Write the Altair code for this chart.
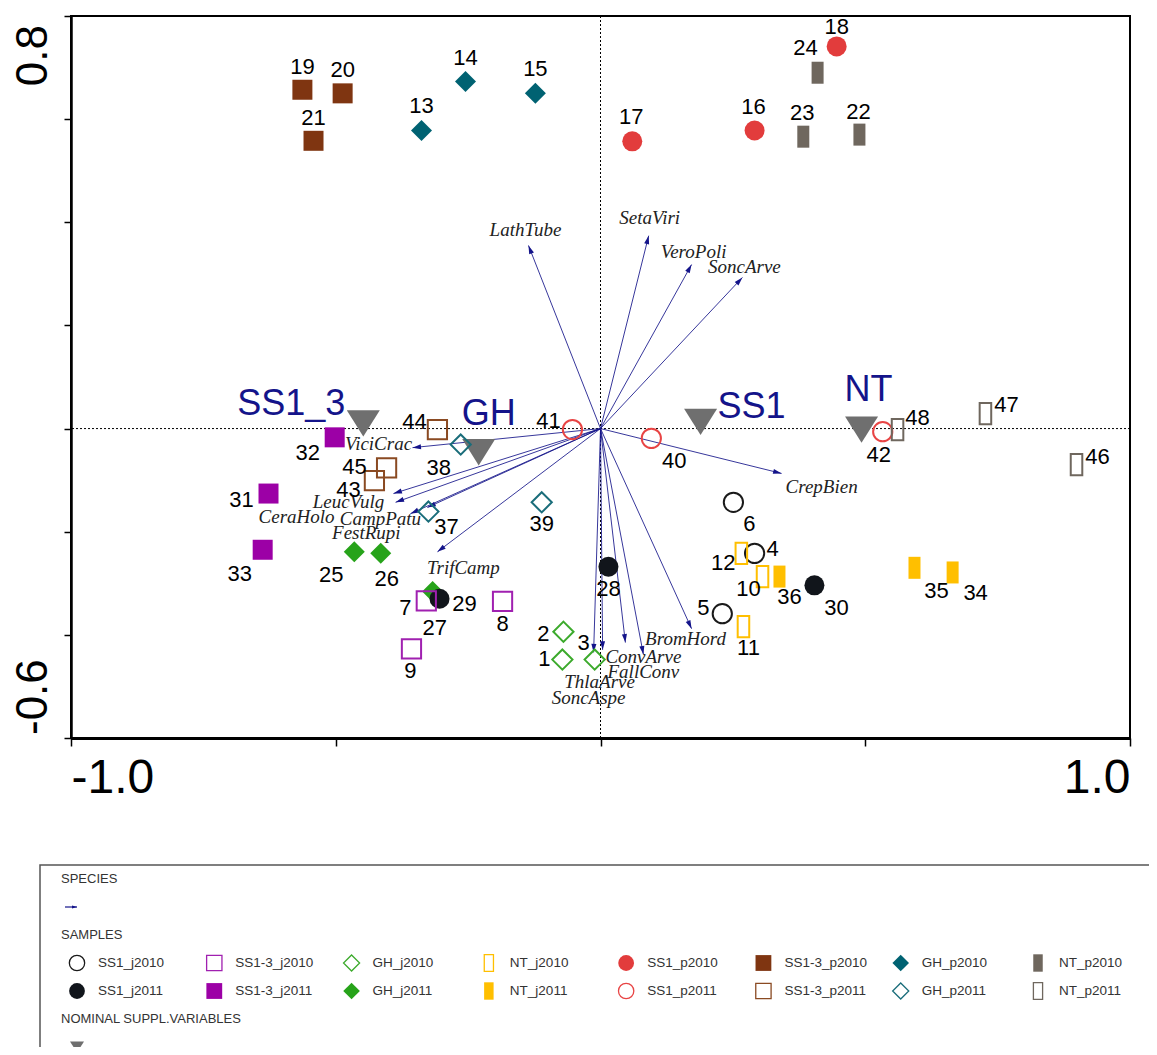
import altair as alt
import pandas as pd

# ---------------- data ----------------
sample_id = list(range(1, 49))
sample_x = [-0.072, -0.070, -0.011, 0.291, 0.230, 0.251, -0.329, -0.185, -0.357, 0.306, 0.270, 0.266,
            -0.338, -0.255, -0.123, 0.291, 0.060, 0.446, -0.563, -0.487, -0.542, 0.489, 0.383, 0.410,
            -0.465, -0.415, -0.317, 0.015, -0.304, 0.404, -0.627, -0.502, -0.638, 0.665, 0.593, 0.338,
            -0.325, -0.264, -0.111, 0.096, -0.053, 0.533, -0.427, -0.308, -0.404, 0.899, 0.727, 0.561]
sample_y = [-0.448, -0.394, -0.448, -0.242, -0.359, -0.143, -0.334, -0.335, -0.427, -0.287, -0.384, -0.242,
            0.578, 0.673, 0.650, 0.578, 0.557, 0.741, 0.657, 0.650, 0.558, 0.570, 0.566, 0.690,
            -0.239, -0.242, -0.316, -0.268, -0.330, -0.304, -0.126, -0.017, -0.235, -0.279, -0.270, -0.287,
            -0.161, -0.031, -0.143, -0.019, -0.002, -0.006, -0.101, -0.002, -0.076, -0.070, 0.029, -0.002]
group_of_block = ["GH_j2010", "SS1_j2010", "SS1-3_j2010", "NT_j2010",
                  "GH_p2010", "SS1_p2010", "SS1-3_p2010", "NT_p2010",
                  "GH_j2011", "SS1_j2011", "SS1-3_j2011", "NT_j2011",
                  "GH_p2011", "SS1_p2011", "SS1-3_p2011", "NT_p2011"]
sample_group = [group_of_block[(i - 1) // 3] for i in sample_id]

# label offsets (pixels) of the sample numbers
label_dx = [-18, -20, -11, 18, -19, 16, -21, 0, -1, -14, 5, -18,
            0, 0, 0, -1, -1, 0, 0, 0, 0, -1, -1, -12,
            -23, 6, 2, 0, 25, 22, -27, -27, -23, 23, 22, 10,
            18, -22, 0, 23, -24, -4, -26, -23, -32, 21, 21, 20]
label_dy = [-1, 2, -17, -4, -6, 22, 7, 23, 22, 12, 21, 10,
            -24, -23, -24, -23, -24, -19, -23, -23, -23, -23, -24, -25,
            23, 26, 36, 22, 5, 23, 6, 16, 24, 21, 23, 20,
            15, 23, 22, 23, -9, 23, 9, -8, -1, -8, -9, -12]

species = ["LathTube", "SetaViri", "VeroPoli", "SoncArve", "CrepBien", "BromHord", "FallConv", "ConvArve",
           "ThlaArve", "SoncAspe", "TrifCamp", "FestRupi", "CampPatu", "CeraHolo", "LeucVulg", "ViciCrac"]
species_x = [-0.136, 0.091, 0.172, 0.268, 0.342, 0.172, 0.081, 0.047,
             -0.013, 0.004, -0.308, -0.327, -0.359, -0.387, -0.391, -0.355]
species_y = [0.355, 0.374, 0.318, 0.293, -0.087, -0.388, -0.438, -0.415,
             -0.434, -0.429, -0.239, -0.153, -0.165, -0.143, -0.126, -0.037]
species_dx = [-3, 1, 2, 2, 40, -6, 0, 18, 6, -14, 26, -61, -30, -99, -45, -34]
species_dy = [-15, -18, -13, -10, 14, 10, 18, 14, 30, 48, 16, 26, 5, 15, 8, -4]

centroid = ["SS1_3", "GH", "SS1", "NT"]
centroid_x = [-0.448, -0.230, 0.189, 0.493]
centroid_y = [0.010, -0.046, 0.013, -0.002]
centroid_dx = [-72, 10, 51, 7]
centroid_dy = [-19, -38, -15, -40]

legend_groups = ["SS1_j2010", "SS1-3_j2010", "GH_j2010", "NT_j2010",
                 "SS1_p2010", "SS1-3_p2010", "GH_p2010", "NT_p2010",
                 "SS1_j2011", "SS1-3_j2011", "GH_j2011", "NT_j2011",
                 "SS1_p2011", "SS1-3_p2011", "GH_p2011", "NT_p2011"]
legend_headers = ["SPECIES", "SAMPLES", "NOMINAL SUPPL.VARIABLES"]
legend_header_rows = [0, 2, 5]

# ---------------- styles ----------------
NT_PATH = "M-0.6,-1.1L0.6,-1.1L0.6,1.1L-0.6,1.1Z"
DIA_PATH = "M0,-1.05L1.05,0L0,1.05L-1.05,0Z"
TRI_PATH = "M-1,-0.8L1,-0.8L0,0.8Z"
HEAD_PATH = "M0,0L-0.6,2L0.6,2Z"
NAVY = "#14148a"
style = {
    "SS1_j2010": ("circle", "#1a1a1a", False),
    "SS1_j2011": ("circle", "#11151b", True),
    "SS1-3_j2010": ("square", "#a020b0", False),
    "SS1-3_j2011": ("square", "#9c00a6", True),
    "GH_j2010": (DIA_PATH, "#3caa2c", False),
    "GH_j2011": (DIA_PATH, "#27a31a", True),
    "NT_j2010": (NT_PATH, "#ffbf00", False),
    "NT_j2011": (NT_PATH, "#ffbf00", True),
    "SS1_p2010": ("circle", "#e23c3c", True),
    "SS1_p2011": ("circle", "#e84444", False),
    "SS1-3_p2010": ("square", "#7f3511", True),
    "SS1-3_p2011": ("square", "#8a4a22", False),
    "GH_p2010": (DIA_PATH, "#006272", True),
    "GH_p2011": (DIA_PATH, "#1a6d7a", False),
    "NT_p2010": (NT_PATH, "#6f675e", True),
    "NT_p2011": (NT_PATH, "#6f675e", False),
}
gdom = list(style.keys())
shape_scale = alt.Scale(domain=gdom, range=[style[g][0] for g in gdom])
color_scale = alt.Scale(domain=gdom, range=[style[g][1] for g in gdom])

# ---------------- tables ----------------
samples = pd.DataFrame({"id": sample_id, "x": sample_x, "y": sample_y, "group": sample_group,
                        "dx": label_dx, "dy": label_dy})
samples["filled"] = [style[g][2] for g in sample_group]
spec_df = pd.DataFrame({"name": species, "x": species_x, "y": species_y, "dx": species_dx, "dy": species_dy})
cent_df = pd.DataFrame({"name": centroid, "x": centroid_x, "y": centroid_y, "dx": centroid_dx, "dy": centroid_dy})
leg_df = pd.DataFrame({"group": legend_groups,
                       "col": [i % 8 for i in range(16)],
                       "row": [3 + i // 8 for i in range(16)]})
leg_df["filled"] = [style[g][2] for g in legend_groups]
head_df = pd.DataFrame({"t": legend_headers, "row": legend_header_rows})
one = pd.DataFrame({"z": [0], "col": [0], "row_sp": [1], "row_nom": [6]})
ylab_top = pd.DataFrame({"v": [0.8], "t": ["0.8"]})
ylab_bot = pd.DataFrame({"v": [-0.6], "t": ["-0.6"]})

W, H = 1059, 722
SX = W / 2.0
SY = H / 1.4
XS = alt.Scale(domain=[-1, 1], nice=False, zero=False)
YS = alt.Scale(domain=[-0.6, 0.8], nice=False, zero=False)
LXS = alt.Scale(domain=[0, 7], range=[6, 967], nice=False, zero=False)
LYS = alt.Scale(domain=[0, 6], range=[863, 1031], nice=False, zero=False)


def X(f, **kw):
    return alt.X(f, scale=XS, axis=None, **kw)


def Y(f, **kw):
    return alt.Y(f, scale=YS, axis=None, **kw)


def LX(f):
    return alt.X(f, scale=LXS, axis=None)


def LY(f):
    return alt.Y(f, scale=LYS, axis=None)


FONT = "Liberation Sans"

xaxis = alt.Axis(values=[-1, -0.5, 0, 0.5, 1], labelFlush=True, labelOverlap=False,
                 labelExpr="datum.value == -1 ? '-1.0' : (datum.value == 1 ? '1.0' : '')",
                 labelFont=FONT, labelFontSize=48, labelColor="black", labelPadding=8,
                 tickSize=8, tickWidth=1.5, tickColor="black", domainColor="black",
                 domainWidth=3, grid=False, title=None)
yaxis = alt.Axis(values=[-0.6, -0.4, -0.2, 0, 0.2, 0.4, 0.6, 0.8], labels=False,
                 tickSize=7, tickWidth=1.5, tickColor="black", domainColor="black",
                 domainWidth=2.5, grid=False, title=None)

vline = alt.Chart(one).mark_rule(color="black", strokeWidth=1, strokeDash=[2, 2]).encode(
    x=alt.X("z:Q", scale=XS, axis=xaxis))
hline = alt.Chart(one).mark_rule(color="black", strokeWidth=1, strokeDash=[2, 2]).encode(
    y=alt.Y("z:Q", scale=YS, axis=yaxis))

arrows = alt.Chart(spec_df).transform_calculate(x0="0", y0="0").mark_rule(
    color=NAVY, strokeWidth=1, opacity=0.85).encode(
    x=X("x0:Q"), y=Y("y0:Q"), x2="x:Q", y2="y:Q")

heads = alt.Chart(spec_df).transform_calculate(
    ang=f"(atan2(datum.x * {SX}, datum.y * {SY}) * 180 / PI + 360) % 360").mark_point(
    shape=HEAD_PATH, size=72, filled=True, color=NAVY, opacity=1, strokeWidth=0).encode(
    x=X("x:Q"), y=Y("y:Q"), angle=alt.Angle("ang:Q", scale=None))

spec_labels = alt.Chart(spec_df).transform_calculate(
    lx=f"datum.x + datum.dx / {SX}", ly=f"datum.y - datum.dy / {SY}").mark_text(
    font="Liberation Serif", fontStyle="italic", fontSize=19, color="#222222",
    align="center", baseline="middle").encode(x=X("lx:Q"), y=Y("ly:Q"), text="name:N")

tris = alt.Chart(cent_df).mark_point(shape=TRI_PATH, size=1089, filled=True, color="#6f6f6f",
                                     opacity=1, strokeWidth=0).encode(x=X("x:Q"), y=Y("y:Q"))

pts_filled = alt.Chart(samples).transform_filter("datum.filled").mark_point(
    filled=True, size=400, opacity=1, strokeWidth=0).encode(
    x=X("x:Q"), y=Y("y:Q"),
    shape=alt.Shape("group:N", scale=shape_scale, legend=None),
    color=alt.Color("group:N", scale=color_scale, legend=None))
pts_open = alt.Chart(samples).transform_filter("!datum.filled").mark_point(
    filled=False, size=370, opacity=1, strokeWidth=2).encode(
    x=X("x:Q"), y=Y("y:Q"),
    shape=alt.Shape("group:N", scale=shape_scale, legend=None),
    color=alt.Color("group:N", scale=color_scale, legend=None))

num_labels = alt.Chart(samples).transform_calculate(
    lx=f"datum.x + datum.dx / {SX}", ly=f"datum.y - datum.dy / {SY}").mark_text(
    font=FONT, fontSize=22, color="black", align="center", baseline="middle").encode(
    x=X("lx:Q"), y=Y("ly:Q"), text="id:N")

cent_labels = alt.Chart(cent_df).transform_calculate(
    lx=f"datum.x + datum.dx / {SX}", ly=f"datum.y - datum.dy / {SY}").mark_text(
    font=FONT, fontSize=36, color=NAVY, align="center", baseline="middle").encode(
    x=X("lx:Q"), y=Y("ly:Q"), text="name:N")

ytop = alt.Chart(ylab_top).mark_text(font=FONT, fontSize=44, color="black", angle=270,
                                     align="right", baseline="middle", dx=-9).encode(
    x=alt.value(-37), y=Y("v:Q"), text="t:N")
ybot = alt.Chart(ylab_bot).mark_text(font=FONT, fontSize=44, color="black", angle=270,
                                     align="left", baseline="middle", dx=3).encode(
    x=alt.value(-37), y=Y("v:Q"), text="t:N")

# ---------------- legend ----------------
leg_box = alt.Chart(one).mark_rect(fillOpacity=0, stroke="#555555", strokeWidth=1.5).encode(
    x=alt.value(-31), x2=alt.value(1200), y=alt.value(849), y2=alt.value(1200))
leg_heads = alt.Chart(head_df).mark_text(font=FONT, fontSize=13, color="#333333",
                                         align="left", baseline="middle").encode(
    x=alt.value(-10), y=LY("row:Q"), text="t:N")
leg_arrow = alt.Chart(one).mark_rule(color=NAVY, strokeWidth=1.2).encode(
    x=LX("col:Q"), x2=alt.value(-6), y=LY("row_sp:Q"))
leg_arrowhead = alt.Chart(one).mark_point(shape=HEAD_PATH, size=25, filled=True, color=NAVY,
                                          opacity=1, strokeWidth=0, angle=90).encode(
    x=LX("col:Q"), y=LY("row_sp:Q"))
leg_filled = alt.Chart(leg_df).transform_filter("datum.filled").mark_point(
    filled=True, size=250, opacity=1, strokeWidth=0).encode(
    x=LX("col:Q"), y=LY("row:Q"),
    shape=alt.Shape("group:N", scale=shape_scale, legend=None),
    color=alt.Color("group:N", scale=color_scale, legend=None))
leg_open = alt.Chart(leg_df).transform_filter("!datum.filled").mark_point(
    filled=False, size=235, opacity=1, strokeWidth=1.3).encode(
    x=LX("col:Q"), y=LY("row:Q"),
    shape=alt.Shape("group:N", scale=shape_scale, legend=None),
    color=alt.Color("group:N", scale=color_scale, legend=None))
leg_text = alt.Chart(leg_df).mark_text(font=FONT, fontSize=13.5, color="#333333", align="left",
                                       baseline="middle", dx=21).encode(
    x=LX("col:Q"), y=LY("row:Q"), text="group:N")
leg_tri = alt.Chart(one).mark_point(shape=TRI_PATH, size=196, filled=True, color="#6f6f6f",
                                    opacity=1, strokeWidth=0).encode(
    x=LX("col:Q"), y=LY("row_nom:Q"))

chart = alt.layer(
    vline, hline, arrows, heads, spec_labels, tris, pts_filled, pts_open, num_labels,
    cent_labels, ytop, ybot,
    leg_box, leg_heads, leg_arrow, leg_arrowhead, leg_filled, leg_open, leg_text, leg_tri
).resolve_scale(
    x="independent", y="independent", shape="independent", color="independent"
).properties(
    width=W, height=H,
    autosize=alt.AutoSizeParams(type="none"),
    padding={"left": 63, "top": 8, "right": 19, "bottom": 309},
    background="white"
).configure_view(stroke="black", strokeWidth=2)

chart.save("out.html", embed_options={"renderer": "svg", "actions": False})
